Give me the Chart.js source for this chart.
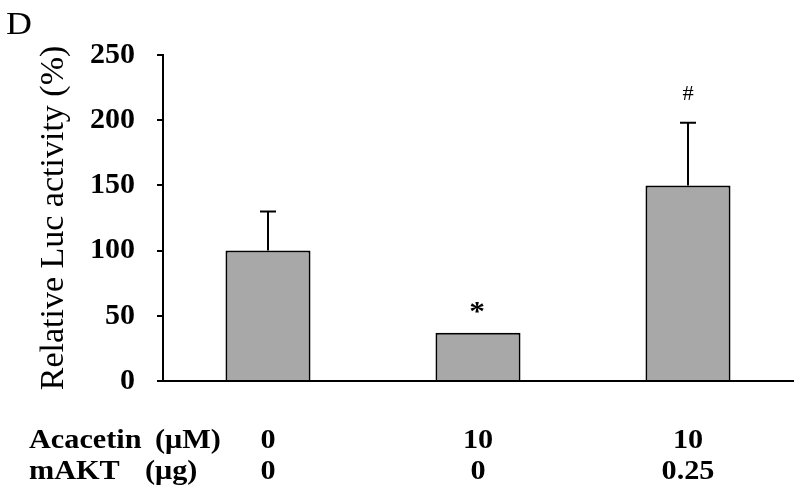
<!DOCTYPE html>
<html>
<head>
<meta charset="utf-8">
<script src="https://cdn.jsdelivr.net/npm/chart.js@4/dist/chart.umd.min.js"></script>
<style>
  body { margin: 0; background: #fff; }
  #wrap { width: 800px; height: 496px; }
</style>
</head>
<body>
<div id="wrap"><canvas id="chart" width="800" height="496"></canvas></div>
<script>
// data
const groups = ["g1", "g2", "g3"];
const acacetin = ["0", "10", "10"];
const makt = ["0", "0", "0.25"];
const luc = [100, 37, 150];
const lucErr = [30, 0, 48];
const marks = ["", "*", "#"];
const yTicks = [0, 50, 100, 150, 200, 250];

const SERIF = "'Liberation Serif', 'Times New Roman', serif";
const STRETCH = 1.12; // the original figure is a bit stretched sideways

function wideText(ctx, text, x, y, align) {
  ctx.save();
  ctx.translate(x, y);
  ctx.scale(STRETCH, 1);
  ctx.textAlign = align;
  ctx.fillText(text, 0, 0);
  ctx.restore();
}

const extras = {
  id: "extras",
  afterDatasetsDraw(chart) {
    const ctx = chart.ctx;
    const x = chart.scales.x;
    const y = chart.scales.y;
    ctx.save();
    ctx.strokeStyle = "#000";
    ctx.fillStyle = "#000";
    ctx.lineWidth = 2;

    // error bars (upper half only)
    luc.forEach((v, i) => {
      if (!lucErr[i]) return;
      const cx = x.getPixelForValue(i);
      const top = y.getPixelForValue(v + lucErr[i]);
      const base = y.getPixelForValue(v);
      ctx.beginPath();
      ctx.moveTo(cx, base);
      ctx.lineTo(cx, top);
      ctx.moveTo(cx - 8, top);
      ctx.lineTo(cx + 8, top);
      ctx.stroke();
    });

    // significance marks
    ctx.textBaseline = "middle";
    marks.forEach((m, i) => {
      if (!m) return;
      const cx = x.getPixelForValue(i);
      const top = y.getPixelForValue(luc[i] + lucErr[i]);
      if (m === "*") {
        ctx.font = "bold 28px " + SERIF;
        wideText(ctx, m, cx - 1, top - 20, "center");
      } else {
        ctx.font = "20px " + SERIF;
        wideText(ctx, m, cx, top - 28, "center");
      }
    });

    // panel letter
    ctx.textBaseline = "alphabetic";
    ctx.font = "32px " + SERIF;
    wideText(ctx, "D", 6, 34, "left");

    // treatment table under the axis
    ctx.font = "bold 27px " + SERIF;
    wideText(ctx, "Acacetin", 29, 448, "left");
    wideText(ctx, "(\u03bcM)", 155, 448, "left");
    wideText(ctx, "mAKT", 29, 479, "left");
    wideText(ctx, "(\u03bcg)", 145, 479, "left");
    groups.forEach((g, i) => {
      const cx = x.getPixelForValue(i);
      wideText(ctx, acacetin[i], cx, 448, "center");
      wideText(ctx, makt[i], cx, 479, "center");
    });
    ctx.restore();
  }
};

new Chart(document.getElementById("chart"), {
  type: "bar",
  data: {
    labels: groups,
    datasets: [
      {
        label: "Relative Luc activity",
        data: luc,
        backgroundColor: "#a8a8a8",
        borderColor: "#000",
        borderWidth: 2,
        categoryPercentage: 1,
        barPercentage: 0.405,
      },
    ],
  },
  options: {
    responsive: false,
    animation: false,
    layout: {
      padding: { top: 55, right: 7, bottom: 107, left: 0 },
    },
    plugins: {
      legend: { display: false },
      tooltip: { enabled: false },
    },
    scales: {
      x: {
        grid: { display: false },
        ticks: { display: false },
        border: { color: "#000", width: 2 },
      },
      y: {
        min: 0,
        max: 250,
        afterBuildTicks(scale) {
          scale.ticks = yTicks.map((v) => ({ value: v }));
        },
        afterFit(scale) {
          scale.width = 163;
        },
        ticks: {
          color: "#000",
          padding: 22,
          font: { family: SERIF, size: 30, weight: "bold" },
        },
        grid: {
          drawOnChartArea: false,
          tickLength: 6,
          color: "#000",
          lineWidth: 2,
        },
        border: { color: "#000", width: 2 },
        title: {
          display: true,
          text: "Relative Luc activity (%)",
          color: "#000",
          padding: { top: 34, bottom: 0 },
          font: { family: SERIF, size: 34, weight: "normal" },
        },
      },
    },
  },
  plugins: [extras],
});
</script>
</body>
</html>
